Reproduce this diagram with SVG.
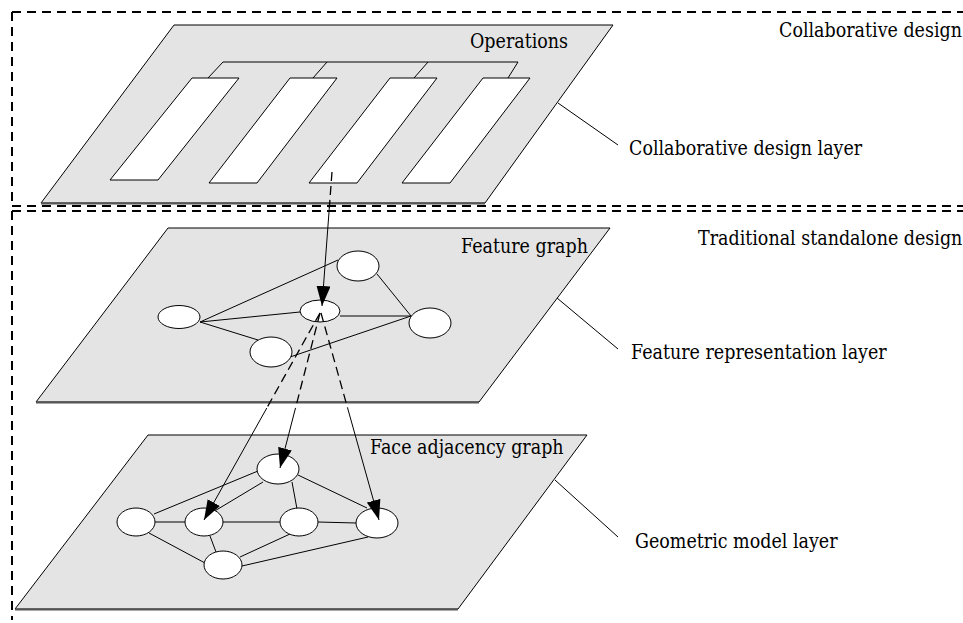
<svg xmlns="http://www.w3.org/2000/svg" width="963" height="623" viewBox="0 0 963 623">
<style>
.border{fill:none;stroke:#000;stroke-width:2;stroke-dasharray:9 6}
.plane{fill:#e4e4e4;stroke:#000;stroke-width:1}
.shadow{fill:none;stroke:#555;stroke-width:2}
.slot{fill:#fff;stroke:#000;stroke-width:1}
.comb{fill:none;stroke:#000;stroke-width:1}
.node{fill:#fff;stroke:#000;stroke-width:1}
.edge{fill:none;stroke:#000;stroke-width:1}
.dash{fill:none;stroke:#000;stroke-width:1.3;stroke-dasharray:9 5}
.arrow{fill:none;stroke:#000;stroke-width:1;marker-end:url(#ah)}
.leader{fill:none;stroke:#000;stroke-width:1}
text{font-family:"DejaVu Serif","Liberation Serif",serif;font-size:17.5px;fill:#000}
</style>
<defs>
<marker id="ah" markerUnits="userSpaceOnUse" markerWidth="20" markerHeight="14" refX="20" refY="7" orient="auto">
<path d="M0,0 L20,7 L0,14 z" fill="#000"/>
</marker>
</defs>

<g id="borders">
<path class="border" d="M12,12 H963 M12,12 V206 M12,206 H963"/>
<path class="border" d="M12,211 H963 M12,211 V620"/>
</g>

<g id="layer-collaborative">
<polygon class="plane" points="174,25 613,25 485,203 41,203"/>
<line class="shadow" x1="41" y1="203.5" x2="485" y2="203.5"/>
<path class="comb" d="M208,78 L223,62 L518,62 L508,78 M327,62 L313,78 M428,62 L414,78"/>
<polygon class="slot" points="192,78 239,78 158,180 110,180"/>
<polygon class="slot" points="290,78 337,78 257,183 209,183"/>
<polygon class="slot" points="390,78 437,78 357,183 309,183"/>
<polygon class="slot" points="483,78 530,78 450,183 402,183"/>
<text transform="translate(470,48) scale(1,1.13)">Operations</text>
</g>

<g id="layer-feature">
<polygon class="plane" points="168,228 610,228 479,402 36,402"/>
<line class="shadow" x1="36" y1="402.5" x2="479" y2="402.5"/>
<text transform="translate(461,253) scale(1,1.13)">Feature graph</text>
</g>

<g id="layer-geometric">
<polygon class="plane" points="148,435 587,435 458,609 15,609"/>
<line class="shadow" x1="15" y1="609.5" x2="458" y2="609.5"/>
<text transform="translate(370,454) scale(1,1.13)">Face adjacency graph</text>
</g>

<g id="connectors">
<line class="edge" x1="200" y1="322" x2="338" y2="260"/>
<line class="edge" x1="200" y1="322" x2="300" y2="312"/>
<line class="edge" x1="200" y1="322" x2="258" y2="340"/>
<line class="edge" x1="377" y1="274" x2="411" y2="316"/>
<line class="edge" x1="340" y1="316" x2="411" y2="316"/>
<line class="edge" x1="290" y1="357" x2="411" y2="316"/>

<line class="edge" x1="154" y1="514" x2="258" y2="471"/>
<line class="edge" x1="155" y1="522" x2="185" y2="522"/>
<line class="edge" x1="149" y1="533" x2="205" y2="563"/>
<line class="edge" x1="213" y1="512" x2="263" y2="482"/>
<line class="edge" x1="223" y1="522" x2="280" y2="522"/>
<line class="edge" x1="210" y1="536" x2="216" y2="552"/>
<line class="edge" x1="292" y1="482" x2="297" y2="509"/>
<line class="edge" x1="298" y1="475" x2="367" y2="508"/>
<line class="edge" x1="318" y1="522" x2="356" y2="523"/>
<line class="edge" x1="290" y1="534" x2="240" y2="557"/>
<line class="edge" x1="242" y1="566" x2="368" y2="537"/>

<line class="leader" x1="558" y1="103" x2="618" y2="145"/>
<line class="leader" x1="557" y1="298" x2="618" y2="349"/>
<line class="leader" x1="555" y1="480" x2="618" y2="537"/>
</g>

<g id="feature-nodes">
<g id="f-left"><ellipse class="node" cx="179" cy="317" rx="21" ry="11.5"/></g>
<g id="f-center"><ellipse class="node" cx="320" cy="311" rx="20" ry="11"/></g>
<g id="f-top"><ellipse class="node" cx="358" cy="266" rx="21" ry="15"/></g>
<g id="f-right"><ellipse class="node" cx="430" cy="323" rx="21" ry="15"/></g>
<g id="f-bottom"><ellipse class="node" cx="271" cy="352" rx="21" ry="15"/></g>
</g>

<g id="face-nodes">
<g id="g-top"><ellipse class="node" cx="278" cy="469" rx="21" ry="15"/></g>
<g id="g-left"><ellipse class="node" cx="136" cy="522" rx="19" ry="14"/></g>
<g id="g-midleft"><ellipse class="node" cx="204" cy="522" rx="19" ry="14"/></g>
<g id="g-midright"><ellipse class="node" cx="299" cy="522" rx="19" ry="14"/></g>
<g id="g-right"><ellipse class="node" cx="377" cy="523" rx="21" ry="15"/></g>
<g id="g-bottom"><ellipse class="node" cx="223" cy="565" rx="19" ry="14"/></g>
</g>

<g id="mapping-arrows">
<line class="dash" x1="332" y1="172" x2="329.3" y2="208"/>
<line class="arrow" x1="329.3" y1="208" x2="322" y2="306"/>
<line class="dash" x1="320" y1="313" x2="266.8" y2="408"/>
<line class="arrow" x1="266.8" y1="408" x2="204" y2="520"/>
<line class="dash" x1="320" y1="313" x2="295.5" y2="408"/>
<line class="arrow" x1="295.5" y1="408" x2="280" y2="468"/>
<line class="dash" x1="321" y1="313" x2="347.6" y2="408"/>
<line class="arrow" x1="347.6" y1="408" x2="379" y2="520"/>
</g>

<g id="labels">
<text transform="translate(779,37) scale(1,1.13)">Collaborative design</text>
<text transform="translate(629,155) scale(1,1.13)">Collaborative design layer</text>
<text transform="translate(698,245) scale(1,1.13)">Traditional standalone design</text>
<text transform="translate(631,359) scale(1,1.13)">Feature representation layer</text>
<text transform="translate(635,548) scale(1,1.13)">Geometric model layer</text>
</g>
</svg>
